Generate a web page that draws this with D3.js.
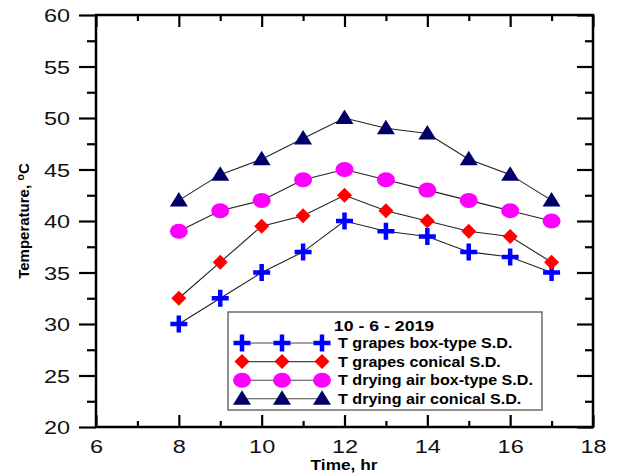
<!DOCTYPE html>
<html><head><meta charset="utf-8">
<script src="https://cdn.jsdelivr.net/npm/d3@7"></script>
<style>body{margin:0;background:#fff}svg{display:block}</style>
</head><body>
<svg id="c" width="621" height="476"></svg>
<script>
const hours = [8, 9, 10, 11, 12, 13, 14, 15, 16, 17];
const grapesBox = [30, 32.5, 35, 37, 40, 39, 38.5, 37, 36.5, 35];
const grapesConical = [32.5, 36, 39.5, 40.5, 42.5, 41, 40, 39, 38.5, 36];
const airBox = [39, 41, 42, 44, 45, 44, 43, 42, 41, 40];
const airConical = [42, 44.5, 46, 48, 50, 49, 48.5, 46, 44.5, 42];
const seriesNames = ["T grapes box-type S.D.", "T grapes conical S.D.", "T drying air box-type S.D.", "T drying air conical S.D."];
const xTicks = [6, 8, 10, 12, 14, 16, 18];
const yTicks = [20, 25, 30, 35, 40, 45, 50, 55, 60];
const legendTitle = "10 - 6 - 2019";

const series = [
  {name: seriesNames[0], values: grapesBox, shape: "plus", color: "#0000ff"},
  {name: seriesNames[1], values: grapesConical, shape: "diamond", color: "#ff0000"},
  {name: seriesNames[2], values: airBox, shape: "circle", color: "#ff00ff"},
  {name: seriesNames[3], values: airConical, shape: "triangle", color: "#000066"}
];

const svg = d3.select("#c");
const L = 96, R = 593, T = 15, B = 427;
const x = d3.scaleLinear().domain([6, 18]).range([L, R]);
const y = d3.scaleLinear().domain([20, 60]).range([B, T]);
const font = "Arial, 'Liberation Sans', sans-serif";

function marker(g, shape, color, cx, cy) {
  if (shape === "plus") {
    g.append("path").attr("d", `M${cx-8.5},${cy}H${cx+8.5}M${cx},${cy-8.5}V${cy+8.5}`)
      .attr("stroke", color).attr("stroke-width", 4.5).attr("fill", "none");
  } else if (shape === "diamond") {
    g.append("path").attr("d", `M${cx},${cy-7.5}L${cx+7.5},${cy}L${cx},${cy+7.5}L${cx-7.5},${cy}Z`).attr("fill", color);
  } else if (shape === "circle") {
    g.append("ellipse").attr("cx", cx).attr("cy", cy).attr("rx", 9).attr("ry", 7.5).attr("fill", color);
  } else {
    g.append("path").attr("d", `M${cx},${cy-8.5}L${cx+9},${cy+6}L${cx-9},${cy+6}Z`).attr("fill", color);
  }
}

series.forEach(s => {
  const line = d3.line().x((d, i) => x(hours[i])).y(d => y(d));
  svg.append("path").attr("d", line(s.values)).attr("fill", "none").attr("stroke", "#222").attr("stroke-width", 1.1);
});
series.forEach(s => {
  const g = svg.append("g");
  s.values.forEach((v, i) => marker(g, s.shape, s.color, x(hours[i]), y(v)));
});

const minorX = d3.range(7, 18, 2);
const minorY = d3.range(22.5, 60, 5);
const axBottom = svg.append("g").attr("transform", `translate(0,${B})`)
  .call(d3.axisBottom(x).tickValues(xTicks).tickSize(-12).tickPadding(26).tickFormat(d3.format("d")));
const axBottomMinor = svg.append("g").attr("transform", `translate(0,${B})`)
  .call(d3.axisBottom(x).tickValues(minorX).tickSize(-6).tickFormat(""));
const axTop = svg.append("g").attr("transform", `translate(0,${T})`)
  .call(d3.axisTop(x).tickValues(xTicks).tickSize(-12).tickFormat(""));
const axTopMinor = svg.append("g").attr("transform", `translate(0,${T})`)
  .call(d3.axisTop(x).tickValues(minorX).tickSize(-6).tickFormat(""));
const axLeft = svg.append("g").attr("transform", `translate(${L},0)`)
  .call(d3.axisLeft(y).tickValues(yTicks).tickSize(17).tickPadding(9).tickFormat(d3.format("d")));
const axLeftMinor = svg.append("g").attr("transform", `translate(${L},0)`)
  .call(d3.axisLeft(y).tickValues(minorY).tickSize(9).tickFormat(""));
const axRight = svg.append("g").attr("transform", `translate(${R},0)`)
  .call(d3.axisRight(y).tickValues(yTicks).tickSize(-16).tickFormat(""));
const axRightMinor = svg.append("g").attr("transform", `translate(${R},0)`)
  .call(d3.axisRight(y).tickValues(minorY).tickSize(-8).tickFormat(""));

[axBottom, axBottomMinor, axTop, axTopMinor, axLeft, axLeftMinor, axRight, axRightMinor].forEach(a => {
  a.select(".domain").remove();
  a.selectAll("line").attr("stroke", "#000").attr("stroke-width", 2.2);
  a.selectAll("text").attr("font-family", font).attr("font-size", 18.5).attr("fill", "#111");
});
// reference glyphs are horizontally stretched
axBottom.selectAll("text").attr("dy", "0").attr("transform", function() {
  const ty = +this.getAttribute("y"); return `translate(0,${ty}) scale(1.27,1)`;
}).attr("y", 0);
axLeft.selectAll("text").attr("dy", "0.36em").attr("transform", function() {
  const tx = +this.getAttribute("x"); return `translate(${tx},0) scale(1.27,1)`;
}).attr("x", 0);

svg.append("rect").attr("x", L).attr("y", T).attr("width", R - L).attr("height", B - T)
  .attr("fill", "none").attr("stroke", "#000").attr("stroke-width", 2.5);

svg.append("text").attr("transform", `translate(344,469.5) scale(1.15,1)`).attr("text-anchor", "middle")
  .attr("font-family", font).attr("font-weight", "bold").attr("font-size", 15).text("Time, hr");
const yl = svg.append("text").attr("transform", `translate(28.5,${(T + B) / 2}) rotate(-90)`)
  .attr("text-anchor", "middle").attr("font-family", font).attr("font-weight", "bold").attr("font-size", 15);
yl.append("tspan").text("Temperature, ");
yl.append("tspan").attr("font-size", 11).attr("dy", -5).text("o");
yl.append("tspan").attr("dy", 5).text("C");

const lg = svg.append("g");
lg.append("rect").attr("x", 228).attr("y", 312).attr("width", 314).attr("height", 98)
  .attr("fill", "#fff").attr("stroke", "#555").attr("stroke-width", 1.3);
lg.append("text").attr("transform", "translate(384,331) scale(1.18,1)").attr("text-anchor", "middle")
  .attr("font-family", font).attr("font-weight", "bold").attr("font-size", 15).text(legendTitle);
series.forEach((s, i) => {
  const yy = 343 + i * 18.6;
  lg.append("line").attr("x1", 242).attr("x2", 322).attr("y1", yy).attr("y2", yy).attr("stroke", "#444").attr("stroke-width", 1.1);
  [242, 282, 322].forEach(mx => marker(lg, s.shape, s.color, mx, yy));
  lg.append("text").attr("transform", `translate(338,${yy + 5}) scale(1.15,1)`).attr("font-family", font).attr("font-weight", "bold")
    .attr("font-size", 14).text(s.name);
});
</script>
</body></html>
